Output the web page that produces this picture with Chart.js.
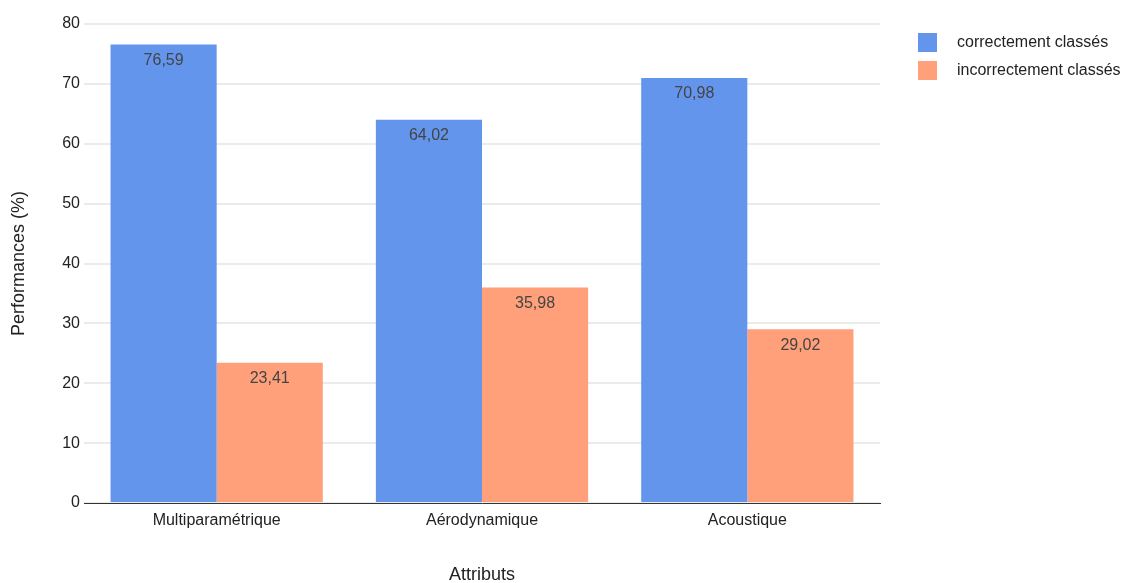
<!DOCTYPE html>
<html>
<head>
<meta charset="utf-8">
<script src="https://cdn.jsdelivr.net/npm/chart.js@4/dist/chart.umd.min.js"></script>
<style>
  html, body { margin: 0; padding: 0; background: #fff; }
  #wrap { width: 1127px; height: 583px; }
</style>
</head>
<body>
<div id="wrap"><canvas id="myChart" width="1127" height="583"></canvas></div>
<script>
const categories = ['Multiparamétrique', 'Aérodynamique', 'Acoustique']
const correct = [76.59, 64.02, 70.98]
const incorrect = [23.41, 35.98, 29.02]
const yTicks = [0, 10, 20, 30, 40, 50, 60, 70, 80]

const fontFamily = "'Liberation Sans', Arial, sans-serif"

// valeurs écrites en haut de chaque barre
const barLabels = {
    id: 'barLabels',
    afterDatasetsDraw(chart) {
        const ctx = chart.ctx
        ctx.save()
        ctx.font = '16px ' + fontFamily
        ctx.fillStyle = '#444444'
        ctx.textAlign = 'center'
        ctx.textBaseline = 'middle'
        chart.data.datasets.forEach((ds, i) => {
            chart.getDatasetMeta(i).data.forEach((bar, j) => {
                const txt = ds.data[j].toFixed(2).replace('.', ',')
                ctx.fillText(txt, bar.x, bar.y + 16)
            })
        })
        ctx.restore()
    }
}

// légende à droite, dessinée à la main
const sideLegend = {
    id: 'sideLegend',
    afterDraw(chart) {
        const ctx = chart.ctx
        ctx.save()
        ctx.font = '16px ' + fontFamily
        ctx.textBaseline = 'middle'
        chart.data.datasets.forEach((ds, i) => {
            const y = 33 + i * 28
            ctx.fillStyle = ds.backgroundColor
            ctx.fillRect(918, y, 19, 19)
            ctx.fillStyle = '#222222'
            ctx.fillText(ds.label, 957, y + 10)
        })
        ctx.restore()
    }
}

const data = {
    labels: categories,
    datasets: [{
        label: 'correctement classés',
        backgroundColor: '#6495ED',
        data: correct,
    }, {
        label: 'incorrectement classés',
        backgroundColor: '#FFA07A',
        data: incorrect,
    }]
}

const config = {
    type: 'bar',
    data: data,
    options: {
        responsive: false,
        animation: false,
        layout: { padding: { top: 24, right: 247, bottom: 0, left: 0 } },
        datasets: { bar: { categoryPercentage: 0.8, barPercentage: 1.0 } },
        plugins: {
            legend: { display: false },
            tooltip: { enabled: false },
        },
        scales: {
            x: {
                grid: { display: false, drawTicks: false },
                border: { color: '#333333', width: 1 },
                ticks: { color: '#222222', font: { family: fontFamily, size: 16 }, padding: 8 },
                title: { display: true, text: 'Attributs', color: '#222222', font: { family: fontFamily, size: 18 }, padding: { top: 0, bottom: -3 } },
                afterFit: (scale) => { scale.height = 80 },
            },
            y: {
                min: 0,
                max: 80,
                afterBuildTicks: (scale) => { scale.ticks = yTicks.map(v => ({ value: v })) },
                grid: { color: '#ebebeb', lineWidth: 2, drawTicks: false },
                border: { display: false },
                ticks: { color: '#222222', font: { family: fontFamily, size: 16 }, padding: 4 },
                title: { display: true, text: 'Performances (%)', color: '#222222', font: { family: fontFamily, size: 18 }, padding: { top: 8, bottom: 0 } },
                afterFit: (scale) => { scale.width = 84 },
            }
        }
    },
    plugins: [barLabels, sideLegend]
}

const myChart = new Chart(document.getElementById('myChart'), config)
</script>
</body>
</html>
